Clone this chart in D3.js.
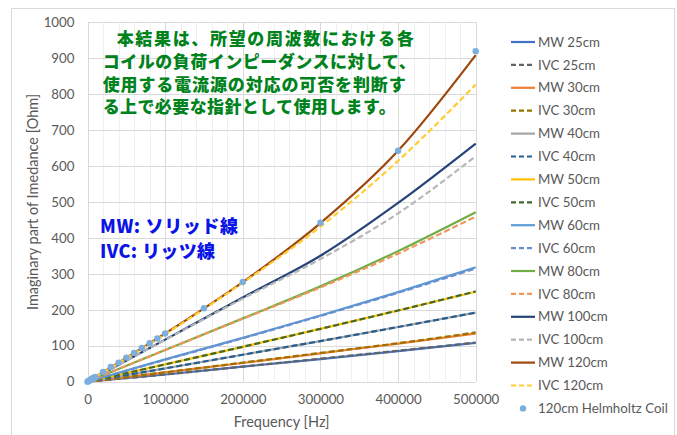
<!DOCTYPE html>
<html><head><meta charset="utf-8">
<script src="https://cdn.jsdelivr.net/npm/d3@7"></script>
<style>
body{margin:0;background:#fff;}
svg{display:block;}
</style></head>
<body>
<svg id="chart" width="677" height="435"></svg>
<script>
// ---- data ----
const freqs = [0, 100000, 200000, 300000, 400000, 500000];
const mw25  = [0, 20, 42, 63, 85, 108];
const ivc25 = [0, 20, 42, 64, 86, 109];
const mw30  = [0, 26, 52, 79, 106, 134];
const ivc30 = [0, 26, 53, 80, 107, 137];
const mw40  = [0, 37, 75, 113, 152, 192];
const ivc40 = [0, 37, 75, 113, 152, 192];
const mw50  = [0, 48, 97, 147, 198, 250];
const ivc50 = [0, 48, 97, 147, 198, 251];
const mw60  = [0, 62, 122, 184, 249, 318];
const ivc60 = [0, 61, 121, 183, 247, 315];
const mw80  = [0, 88, 176, 265, 363, 471];
const ivc80 = [0, 88, 175, 262, 356, 459];
const mw100 = [0, 117, 234, 350, 497, 662];
const ivc100= [0, 116, 231, 341, 468, 627];
const mw120 = [0, 134, 277, 441, 642, 908];
const ivc120= [0, 132, 275, 431, 614, 826];
const hhFreq = [0,1000,2000,3000,4000,5000,6000,7000,8000,9000,10000,20000,30000,40000,50000,60000,70000,80000,90000,100000,150000,200000,300000,400000,500000];
const hhVal  = [0,1.3,2.7,4,5.4,6.7,8,9.4,10.7,12,13.4,27,41,53,67,80,94,107,120,134,204,277,442,642,919];
const seriesNames = ["MW 25cm","IVC 25cm","MW 30cm","IVC 30cm","MW 40cm","IVC 40cm","MW 50cm","IVC 50cm","MW 60cm","IVC 60cm","MW 80cm","IVC 80cm","MW 100cm","IVC 100cm","MW 120cm","IVC 120cm"];
const seriesValues = [mw25,ivc25,mw30,ivc30,mw40,ivc40,mw50,ivc50,mw60,ivc60,mw80,ivc80,mw100,ivc100,mw120,ivc120];
const hhName = "120cm Helmholtz Coil";
const xTicks = [0,100000,200000,300000,400000,500000];
const yTicks = [0,100,200,300,400,500,600,700,800,900,1000];
const noteLines = ["本結果は、所望の周波数における各","コイルの負荷インピーダンスに対して、","使用する電流源の対応の可否を判断す","る上で必要な指針として使用します。"];
const keyLines = ["MW: ソリッド線","IVC: リッツ線"];
const xTitle = "Frequency [Hz]";
const yTitle = "Imaginary part of Imedance [Ohm]";

// ---- styles ----
const colors = ["#4472C4","#636363","#ED7D31","#997300","#A5A5A5","#255E91","#FFC000","#43682B","#5B9BD5","#698ED0","#70AD47","#F1975A","#264478","#B7B7B7","#9E480E","#FFCD33"];
const dashed = seriesNames.map(n => n.startsWith("IVC"));
const dotColor = "#7CAFDD";
const font = "Lato, 'Open Sans', sans-serif";
const textColor = "#595959";

const svg = d3.select("#chart");
svg.append("rect").attr("x",11.5).attr("y",8.5).attr("width",663).attr("height",440)
  .attr("fill","#fff").attr("stroke","#D9D9D9").attr("stroke-width",1);

const L = 87.5, R = 475.7, T = 22, B = 381.7;
const x = d3.scaleLinear().domain([0,500000]).range([L,R]);
const y = d3.scaleLinear().domain([0,1000]).range([B,T]);

// gridlines
const g = svg.append("g");
g.selectAll(".minor").data(d3.range(0,500001,20000).filter(v=>v%100000!==0)).join("line")
  .attr("x1",d=>Math.round(x(d))+0.5).attr("x2",d=>Math.round(x(d))+0.5)
  .attr("y1",T).attr("y2",B).attr("stroke","#F0F0F0").attr("stroke-width",1);
g.selectAll(".vmaj").data(xTicks).join("line")
  .attr("x1",d=>Math.round(x(d))+0.5).attr("x2",d=>Math.round(x(d))+0.5)
  .attr("y1",T).attr("y2",B).attr("stroke","#D9D9D9").attr("stroke-width",1);
g.selectAll(".hmaj").data(yTicks).join("line")
  .attr("x1",L).attr("x2",R)
  .attr("y1",d=>Math.round(y(d))+0.5).attr("y2",d=>Math.round(y(d))+0.5)
  .attr("stroke","#D9D9D9").attr("stroke-width",1);

// axes labels via d3 axes
const xAxis = d3.axisBottom(x).tickValues(xTicks).tickFormat(d=>String(d)).tickSize(0).tickPadding(13);
const yAxis = d3.axisLeft(y).tickValues(yTicks).tickFormat(d=>String(d)).tickSize(0).tickPadding(13);
const gx = svg.append("g").attr("transform",`translate(0,${B})`).call(xAxis);
const gy = svg.append("g").attr("transform",`translate(${L},0)`).call(yAxis);
[gx,gy].forEach(a=>{
  a.select(".domain").remove();
  a.selectAll("text").attr("font-family",font).attr("font-size","13.3px").attr("fill",textColor);
});

svg.append("text").attr("x",(L+R)/2).attr("y",427).attr("text-anchor","middle")
  .attr("font-family",font).attr("font-size","14.5px").attr("fill",textColor).text(xTitle);
svg.append("text").attr("transform",`translate(38,${(T+B)/2}) rotate(-90)`).attr("text-anchor","middle")
  .attr("font-family",font).attr("font-size","14.5px").attr("fill",textColor).text(yTitle);

// lines
const line = d3.line().x((d,i)=>x(freqs[i])).y(d=>y(d)).curve(d3.curveMonotoneX);
const lg = svg.append("g");
seriesValues.forEach((vals,i)=>{
  lg.append("path").attr("d",line(vals)).attr("fill","none")
    .attr("stroke",colors[i]).attr("stroke-width",2.2)
    .attr("stroke-dasharray",dashed[i]?"6,3":null);
});
// dots
svg.append("g").selectAll("circle").data(hhVal).join("circle")
  .attr("cx",(d,i)=>x(hhFreq[i])).attr("cy",d=>y(d)).attr("r",3.2).attr("fill",dotColor);

// legend
const leg = svg.append("g");
const ly0 = 42, ldy = 22.9;
seriesNames.forEach((n,i)=>{
  const yy = ly0 + i*ldy;
  leg.append("line").attr("x1",511).attr("x2",535).attr("y1",yy).attr("y2",yy)
    .attr("stroke",colors[i]).attr("stroke-width",2.2).attr("stroke-dasharray",dashed[i]?"5,3":null);
  leg.append("text").attr("x",538).attr("y",yy).attr("dy","0.35em")
    .attr("font-family",font).attr("font-size","13.3px").attr("fill",textColor).text(n);
});
{
  const yy = ly0 + 16*ldy;
  leg.append("circle").attr("cx",523).attr("cy",yy).attr("r",3.2).attr("fill",dotColor);
  leg.append("text").attr("x",538).attr("y",yy).attr("dy","0.35em")
    .attr("font-family",font).attr("font-size","13.3px").attr("fill",textColor).text(hhName);
}

// annotations
const noteX = [116.7,102.7,102.7,102.7];
const noteY = [39,61.7,84.4,107];
const noteW = [297,313,303,293];
noteLines.forEach((t,i)=>{
  svg.append("text").attr("x",noteX[i]).attr("y",noteY[i]).attr("dy","0.36em")
    .attr("font-family","'Noto Sans CJK JP', sans-serif").attr("font-weight","900")
    .attr("font-size","17px").attr("fill","#00821C")
    .attr("textLength",noteW[i]).attr("lengthAdjust","spacing").text(t);
});
const keyY = [226.7,251.7];
const keyW = [138,115];
keyLines.forEach((t,i)=>{
  svg.append("text").attr("x",100).attr("y",keyY[i]).attr("dy","0.36em")
    .attr("font-family","'Noto Sans CJK JP', sans-serif").attr("font-weight","900")
    .attr("font-size","18px").attr("fill","#0A14E6")
    .attr("textLength",keyW[i]).attr("lengthAdjust","spacing").text(t);
});
</script>
</body></html>
